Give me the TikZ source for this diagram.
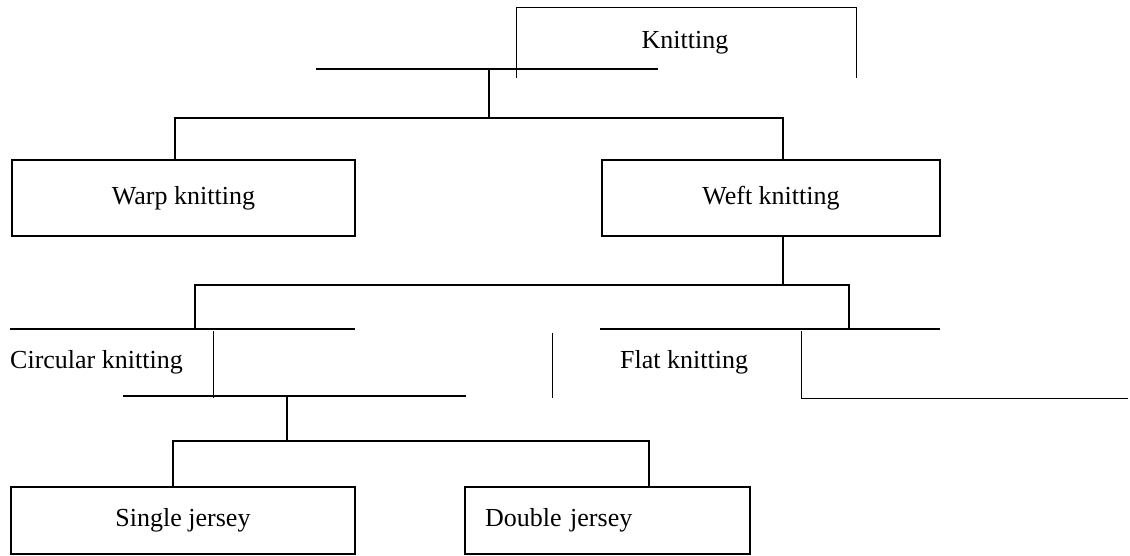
\documentclass[tikz,border=0pt]{standalone}
\usepackage{fontspec}
\setmainfont{Liberation Serif}
\begin{document}
\begin{tikzpicture}[x=1pt,y=-1pt,
  thickline/.style={line width=2.8pt},
  thinline/.style={line width=1pt},
  box/.style={draw,line width=2.2pt,inner sep=0pt,font=\fontsize{26}{30}\selectfont},
  lbl/.style={inner sep=0pt,font=\fontsize{26}{30}\selectfont}]
\useasboundingbox (0,0) rectangle (1130,556);

% top label with its open frame
\node[lbl] (knit) at (685,43) {Knitting};
\coordinate (kfl) at (516,8);
\coordinate (kfr) at (856,8);
\draw[thinline] (516,78) -- (kfl) -- (kfr) -- (856,78);

% first bar and branch
\coordinate (bar1l) at (316,69);
\coordinate (bar1r) at (658,69);
\coordinate (bar1m) at (489,69);
\coordinate (fork1) at (489,118);
\coordinate (fork1l) at (175,118);
\coordinate (fork1r) at (783,118);
\draw[thickline] (bar1l) -- (bar1r);

\node[box,minimum width=343pt,minimum height=76pt] (warp) at (183.5,198) {Warp knitting};
\node[box,minimum width=338pt,minimum height=76pt] (weft) at (771,198) {Weft knitting};

\draw[thickline] (bar1m) -- (fork1);
\draw[thickline] (fork1l |- warp.north) -- (fork1l) -- (fork1r) -- (fork1r |- weft.north);

% second level
\coordinate (bar2l) at (10,329);
\coordinate (bar2r) at (355,329);
\coordinate (bar3l) at (600,329);
\coordinate (bar3r) at (940,329);
\coordinate (fork2m) at (783,285);
\coordinate (fork2l) at (195,285);
\coordinate (fork2r) at (849,285);
\draw[thickline] (bar2l) -- (bar2r);
\draw[thickline] (bar3l) -- (bar3r);
\draw[thickline] (fork2m |- weft.south) -- (fork2m);
\draw[thickline] (fork2l |- bar2l) -- (fork2l) -- (fork2r) -- (fork2r |- bar3l);

\node[lbl,anchor=west] (circ) at (10,362) {Circular knitting};
\node[lbl,anchor=west] (flat) at (620,362) {Flat knitting};

\coordinate (s1t) at (213,331);
\coordinate (s1b) at (213,398);
\coordinate (s2t) at (552,333);
\coordinate (s2b) at (552,398);
\coordinate (s3t) at (801,331);
\coordinate (s3b) at (801,398);
\coordinate (s3r) at (1128,398);
\draw[thinline] (s1t) -- (s1b);
\draw[thinline] (s2t) -- (s2b);
\draw[thinline] (s3t) -- (s3b) -- (s3r);

% third level
\coordinate (bar4l) at (123,396);
\coordinate (bar4r) at (466,396);
\coordinate (fork3m) at (287,441);
\coordinate (fork3l) at (173,441);
\coordinate (fork3r) at (649,441);
\draw[thickline] (bar4l) -- (bar4r);

\node[box,minimum width=344pt,minimum height=67pt] (single) at (183,520.5) {Single jersey};
\node[box,minimum width=285pt,minimum height=67pt,align=left,text width=245pt] (double) at (607.5,520.5) {Double jersey};

\draw[thickline] (fork3m |- bar4l) -- (fork3m);
\draw[thickline] (fork3l |- single.north) -- (fork3l) -- (fork3r) -- (fork3r |- double.north);
\end{tikzpicture}
\end{document}
